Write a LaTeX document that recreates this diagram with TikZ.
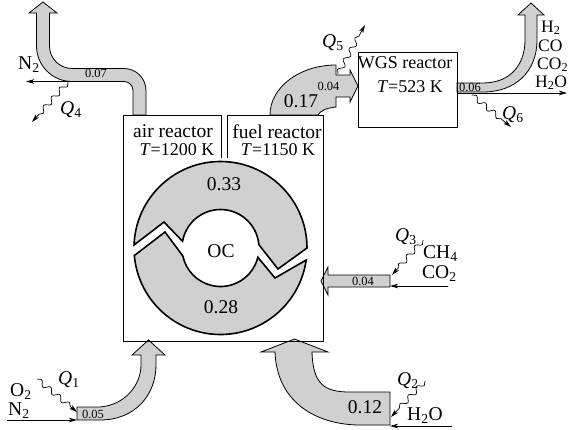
\documentclass[tikz,border=0pt]{standalone}
\usepackage{fontspec}
\setmainfont{Liberation Serif}
\usetikzlibrary{arrows.meta,decorations.pathmorphing,calc}
\definecolor{bandgray}{RGB}{208,208,208}
\begin{document}
\begin{tikzpicture}[x=1pt,y=-1pt,
  band/.style={draw=black, line width=0.8pt, fill=bandgray, line join=miter},
  ringpiece/.style={draw=black, line width=1.6pt, fill=bandgray, line join=miter},
  boxline/.style={draw=black, line width=0.8pt},
  conn/.style={draw=black, line width=0.8pt, -{Stealth[length=8pt,width=4.5pt,inset=2pt]}},
  wavy/.style={draw=black, line width=0.7pt, decorate,
    decoration={snake, amplitude=2.6pt, segment length=12pt, post length=7pt},
    -{Stealth[length=8pt,width=4.5pt,inset=2pt]}},
  big/.style={font=\fontsize{19.5}{22}\selectfont, inner sep=0pt},
  mid/.style={font=\fontsize{18}{21}\selectfont, inner sep=0pt},
  prod/.style={font=\fontsize{17.5}{19}\selectfont, inner sep=0pt},
  small/.style={font=\fontsize{12.5}{14}\selectfont, inner sep=0pt}]
\useasboundingbox (0,0) rectangle (569,429);

% ---- bands (flows) ----
% air reactor exhaust (0.07)
\path[band] (133,115) -- (133,90.5) arc[start angle=0, end angle=-90, radius=9]
  -- (72,81.5) arc[start angle=90, end angle=180, radius=35.5]
  -- (36.5,13) -- (29,13) -- (43,2) -- (57,13) -- (49.5,13)
  -- (49.5,46) arc[start angle=180, end angle=90, radius=22.5]
  -- (124,68.5) arc[start angle=-90, end angle=0, radius=22]
  -- (146,115) -- cycle;
% fuel reactor exhaust (0.17) with 0.04 to WGS
\path[band] (270,115) .. controls (270,87) and (300,65) .. (336,65)
  -- (336,75) -- (350,75) -- (350,70) -- (358,86) -- (350,102) -- (350,97)
  -- (336,97) -- (336,107) .. controls (326,108) and (320,111) .. (318,115) -- cycle;
% WGS outlet (0.06)
\path[band] (457,83) -- (483,83) .. controls (510,83) and (525,65) .. (525,40)
  -- (525,15) -- (518,15) -- (531,3) -- (544,15) -- (537,15)
  -- (537,40) .. controls (537,72) and (515,92) .. (483,92) -- (457,92) -- cycle;
% fuel inlet (0.04)
\path[band] (390,275) -- (328,275) -- (328,267) -- (321,281) -- (328,295)
  -- (328,287) -- (390,287) -- cycle;
% air inlet (0.05)
\path[band] (77,407) -- (100,407) .. controls (125,405) and (141,385) .. (141,365)
  -- (141,355) -- (132,355) -- (148.5,340) -- (165,355) -- (156,355)
  -- (156,365) .. controls (156,395) and (135,420) .. (100,420) -- (77,420) -- cycle;
% steam inlet (0.12)
\path[band] (390,392) -- (350,392) .. controls (325,392) and (313,385) .. (312,352)
  -- (328,352) -- (294.5,339) -- (261,352) -- (275,352)
  .. controls (277,405) and (320,425) .. (360,425) -- (390,425) -- cycle;

% ---- reactors ----
\path[boxline] (221,158) -- (221,115) -- (123,115) -- (123,341) -- (323,341)
  -- (323,115) -- (227,115) -- (227,158);
\draw[boxline] (358,52) rectangle (457,127);

% ---- oxygen carrier ring ----
\coordinate (C) at (220.5,248);
\path[ringpiece] ($(C)+(182:86.5)$) arc[start angle=182, end angle=360, radius=86.5]
  -- (278,269) -- ($(C)+(355:38.5)$) arc[start angle=355, end angle=190, radius=38.5]
  -- (164,222) -- cycle;
\path[ringpiece] ($(C)+(175:86.5)$) arc[start angle=175, end angle=8, radius=86.5]
  -- (275,278) -- ($(C)+(14:38.5)$) arc[start angle=14, end angle=168, radius=38.5]
  -- (165,232) -- cycle;

% ---- texts ----
\node[big, anchor=base] (air) at (173,137) {air reactor};
\node[mid, anchor=base] (airT) at (177,155) {\textit{T}=1200 K};
\node[big, anchor=base] (fuel) at (277,138) {fuel reactor};
\node[mid, anchor=base] (fuelT) at (278,155) {\textit{T}=1150 K};
\node[mid, anchor=base] (wgs) at (405,68) {WGS reactor};
\node[mid, anchor=base] (wgsT) at (410,92) {\textit{T}=523 K};
\node[big, anchor=base] (v033) at (224,190) {0.33};
\node[big, anchor=base] (oc) at (221,257) {OC};
\node[big, anchor=base] (v028) at (221,313) {0.28};
\node[big, anchor=base] (v017) at (301,107) {0.17};
\node[big, anchor=base] (v012) at (365,413) {0.12};
\node[small, anchor=base] (v007) at (96,77) {0.07};
\node[small, anchor=base] (v005) at (93,418) {0.05};
\node[small, anchor=base] (v004a) at (363,285) {0.04};
\node[small, anchor=base] (v004b) at (328.5,90) {0.04};
\node[small, anchor=base] (v006) at (470,91) {0.06};

\node[big, anchor=base west] (n2a) at (18,69) {N\textsubscript{2}};
\node[big, anchor=base west] (q4) at (60,114) {\textit{Q}\textsubscript{4}};
\node[big, anchor=base west] (o2) at (10,396) {O\textsubscript{2}};
\node[big, anchor=base west] (n2b) at (8,415) {N\textsubscript{2}};
\node[big, anchor=base west] (q1) at (58,384) {\textit{Q}\textsubscript{1}};
\node[big, anchor=base west] (q2) at (397,385) {\textit{Q}\textsubscript{2}};
\node[big, anchor=base west] (h2ob) at (407,420) {H\textsubscript{2}O};
\node[big, anchor=base west] (q3) at (395,241) {\textit{Q}\textsubscript{3}};
\node[big, anchor=base west] (ch4) at (423,258) {CH\textsubscript{4}};
\node[big, anchor=base west] (co2b) at (422,278) {CO\textsubscript{2}};
\node[big, anchor=base west] (q5) at (322,47) {\textit{Q}\textsubscript{5}};
\node[big, anchor=base west] (q6) at (502,119) {\textit{Q}\textsubscript{6}};
\node[prod, anchor=base west] (h2) at (541,32) {H\textsubscript{2}};
\node[prod, anchor=base west] (co) at (538,51.5) {CO};
\node[prod, anchor=base west] (co2) at (537,69) {CO\textsubscript{2}};
\node[prod, anchor=base west] (h2o) at (535,87) {H\textsubscript{2}O};

% ---- thin stream lines ----
\coordinate (n2aS) at (75,81.5);  \coordinate (n2aE) at (26,81.5);
\coordinate (n2bS) at (7,420);    \coordinate (n2bE) at (77,420);
\coordinate (h2oS) at (452,426);  \coordinate (h2oE) at (390,426);
\coordinate (co2S) at (448,286);  \coordinate (co2E) at (390,286);
\coordinate (prodS) at (457,93);  \coordinate (prodE) at (567,93);
\draw[conn] (n2aS) -- (n2aE);
\draw[conn] (n2bS) -- (n2bE);
\draw[conn] (h2oS) -- (h2oE);
\draw[conn] (co2S) -- (co2E);
\draw[conn] (prodS) -- (prodE);

% ---- heat flows ----
\coordinate (q4S) at (68,82);   \coordinate (q4E) at (32,122);
\coordinate (q1S) at (37,379);  \coordinate (q1E) at (77,412);
\coordinate (q2S) at (425,381); \coordinate (q2E) at (391,417);
\coordinate (q3S) at (423,240); \coordinate (q3E) at (392,275);
\coordinate (q5S) at (338,74);  \coordinate (q5E) at (365,25);
\coordinate (q6S) at (472,95);  \coordinate (q6E) at (511,127);
\draw[wavy] (q4S) -- (q4E);
\draw[wavy] (q1S) -- (q1E);
\draw[wavy] (q2S) -- (q2E);
\draw[wavy] (q3S) -- (q3E);
\draw[wavy] (q5S) -- (q5E);
\draw[wavy] (q6S) -- (q6E);
\end{tikzpicture}
\end{document}
